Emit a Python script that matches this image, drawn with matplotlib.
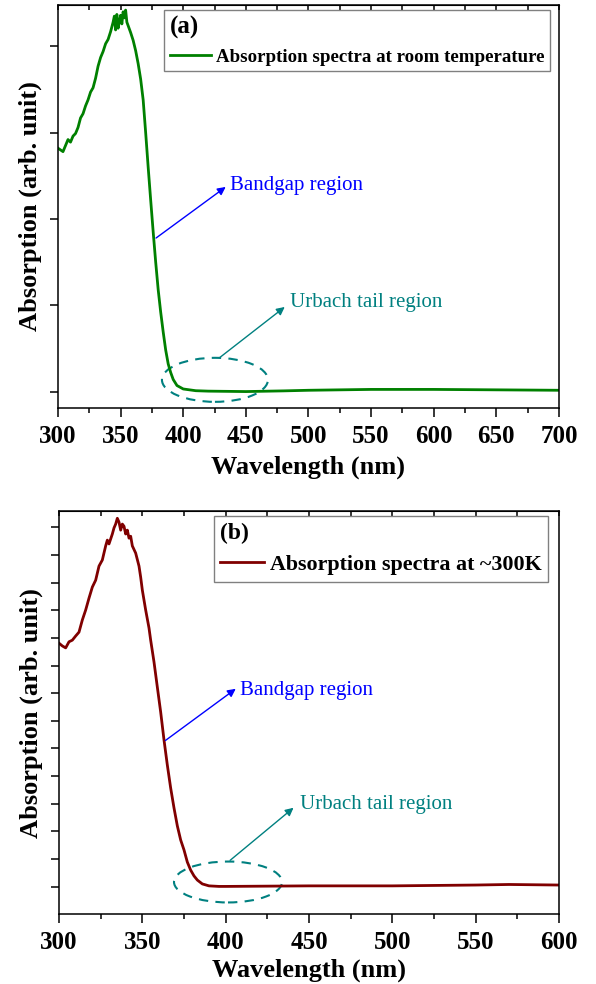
import matplotlib
matplotlib.use("Agg")
import matplotlib.pyplot as plt
from matplotlib.patches import Ellipse
from matplotlib.ticker import MultipleLocator, NullFormatter

plt.rcParams["font.family"] = ["Liberation Serif", "DejaVu Serif"]
plt.rcParams["mathtext.fontset"] = "custom"
plt.rcParams["mathtext.rm"] = "Liberation Serif"
plt.rcParams["mathtext.bf"] = "Liberation Serif:bold"

# =====================================================
# DATA (arbitrary units)
# =====================================================
wl_bto = [300, 302, 304, 306, 308, 310, 312, 314, 316, 318, 320, 322, 324, 326,
          328, 330, 332, 334, 336, 338, 340, 342, 344, 345, 346, 347, 348, 349,
          350, 351, 352, 353, 354, 355, 356, 358, 360, 362, 364, 366, 368, 370,
          372, 374, 376, 378, 380, 382, 384, 386, 388, 390, 392, 395, 400, 410,
          420, 450, 480, 500, 550, 600, 650, 700]
abs_bto = [2.82, 2.80, 2.78, 2.85, 2.92, 2.89, 2.96, 2.99, 3.06, 3.17, 3.22, 3.31,
           3.38, 3.47, 3.52, 3.63, 3.77, 3.87, 3.94, 4.03, 4.08, 4.17, 4.28, 4.35,
           4.19, 4.37, 4.21, 4.29, 4.36, 4.26, 4.40, 4.33, 4.42, 4.28, 4.24, 4.16,
           4.07, 3.95, 3.80, 3.62, 3.38, 3.00, 2.60, 2.22, 1.85, 1.50, 1.18, 0.92,
           0.69, 0.48, 0.32, 0.22, 0.14, 0.07, 0.03, 0.01, 0.005, 0.0, 0.008, 0.015,
           0.025, 0.025, 0.02, 0.015]

wl_tio = [300, 302, 304, 306, 308, 310, 312, 314, 316, 318, 320, 322, 324, 326,
          328, 329, 330, 332, 333, 334, 335, 336, 337, 338, 339, 340, 341, 342,
          343, 344, 346, 348, 349, 350, 352, 354, 355, 357, 359, 361, 363, 365,
          367, 369, 371, 373, 375, 377, 379, 381, 383, 386, 390, 396, 400, 450,
          500, 550, 570, 600]
abs_tio = [8.81, 8.71, 8.64, 8.86, 8.92, 9.07, 9.21, 9.65, 10.01, 10.44, 10.84,
           11.09, 11.60, 11.82, 12.33, 12.54, 12.40, 12.76, 12.98, 13.12, 13.33,
           13.19, 12.90, 13.12, 13.04, 12.76, 12.90, 12.61, 12.68, 12.33, 12.07,
           11.60, 11.20, 10.73, 10.01, 9.36, 8.92, 8.13, 7.22, 6.32, 5.31, 4.40,
           3.57, 2.85, 2.20, 1.69, 1.33, 0.89, 0.60, 0.39, 0.24, 0.10, 0.03, 0.01,
           0.01, 0.03, 0.03, 0.06, 0.08, 0.06]

GREEN = "#008000"
DARKRED = "#800000"
BLUE = "#0000ff"
TEAL = "#008080"


# =====================================================
# STYLE ONE PANEL
# =====================================================
def style_axes(ax, xmin, xmax, ymin, ymax, n_yticks, xlabelpad):
    ax.set_xlim(xmin, xmax)
    ax.set_ylim(ymin, ymax)
    ax.xaxis.set_major_locator(MultipleLocator(50))
    ax.xaxis.set_minor_locator(MultipleLocator(25))
    ax.set_yticks(range(n_yticks))
    ax.yaxis.set_major_formatter(NullFormatter())
    ax.tick_params(axis="x", which="major", direction="out", length=6.5, width=1.1,
                   labelsize=18, pad=5.5)
    ax.tick_params(axis="x", which="minor", direction="out", length=3.5, width=1.1)
    ax.tick_params(axis="y", which="major", direction="out", length=6, width=1.1)
    for lab in ax.get_xticklabels():
        lab.set_fontweight("bold")
    for sp in ax.spines.values():
        sp.set_linewidth(1.1)

    sec = ax.secondary_xaxis("top")
    sec.set_xticks(range(xmin, xmax + 1, 25))
    sec.tick_params(direction="in", length=3.5, width=1.1, labeltop=False)

    ax.set_xlabel("Wavelength (nm)", fontsize=19, fontweight="bold", labelpad=xlabelpad)
    ax.set_ylabel("Absorption (arb. unit)", fontsize=19, fontweight="bold", labelpad=2)


def make_legend(ax, anchor, title, textsize, titlesize, handlelength):
    leg = ax.legend(loc="upper right", bbox_to_anchor=anchor, borderaxespad=0,
                    title=title, alignment="left", fancybox=False, edgecolor="#808080",
                    framealpha=1, prop={"weight": "bold", "size": textsize},
                    handlelength=handlelength, handletextpad=0.25, borderpad=0.3,
                    title_fontsize=titlesize)
    leg.get_title().set_fontweight("bold")
    leg.get_frame().set_linewidth(1.0)
    return leg


fig = plt.figure(figsize=(5.96, 9.84), dpi=100)

# =====================================================
# (a) BaTiO3
# =====================================================
ax1 = fig.add_axes([0.0973, 0.5854, 0.8406, 0.4096])
ax1.plot(wl_bto, abs_bto, color=GREEN, lw=2.0,
         label="Absorption spectra at room temperature")
style_axes(ax1, 300, 700, -0.19, 4.48, 5, 6)
make_legend(ax1, (0.982, 0.9876), "(a)", 13.6, 18, 2.2)
ax1.text(0.50, 0.945, r"BaTiO$_\mathbf{3}$", transform=ax1.transAxes,
         fontsize=13.5, fontweight="bold", ha="center", va="center")

ax1.annotate("", xy=(435.7, 2.39), xytext=(376.5, 1.76),
             arrowprops=dict(arrowstyle="-|>", color=BLUE, lw=1.0, mutation_scale=12))
ax1.text(437.3, 2.39, "Bandgap region", color=BLUE, fontsize=15, va="center")
ax1.annotate("", xy=(482.8, 1.0), xytext=(427, 0.37),
             arrowprops=dict(arrowstyle="-|>", color=TEAL, lw=1.0, mutation_scale=12))
ax1.text(485.2, 1.03, "Urbach tail region", color=TEAL, fontsize=15, va="center")
ax1.add_patch(Ellipse((425.3, 0.136), 84.6, 0.51, fill=False, edgecolor=TEAL,
                      lw=1.5, linestyle=(0, (4.5, 3.5))))

# =====================================================
# (b) TiO2
# =====================================================
ax2 = fig.add_axes([0.0990, 0.0708, 0.8389, 0.4101])
ax2.plot(wl_tio, abs_tio, color=DARKRED, lw=2.0,
         label="Absorption spectra at ~300K")
style_axes(ax2, 300, 600, -1.0, 13.6, 14, 3)
make_legend(ax2, (0.978, 0.9869), "(b)", 15.8, 17, 2.0)
ax2.text(0.635, 0.943, r"TiO$_\mathbf{2}$", transform=ax2.transAxes,
         fontsize=15, fontweight="bold", ha="center", va="center")

ax2.annotate("", xy=(407.4, 7.22), xytext=(362.5, 5.23),
             arrowprops=dict(arrowstyle="-|>", color=BLUE, lw=1.0, mutation_scale=12))
ax2.text(408.6, 7.1, "Bandgap region", color=BLUE, fontsize=15, va="center")
ax2.annotate("", xy=(442, 2.92), xytext=(401.4, 0.89),
             arrowprops=dict(arrowstyle="-|>", color=TEAL, lw=1.0, mutation_scale=12))
ax2.text(444.6, 2.96, "Urbach tail region", color=TEAL, fontsize=15, va="center")
ax2.add_patch(Ellipse((401.4, 0.17), 64.8, 1.48, fill=False, edgecolor=TEAL,
                      lw=1.5, linestyle=(0, (4.5, 3.5))))

fig.savefig("out.png", dpi=100)
